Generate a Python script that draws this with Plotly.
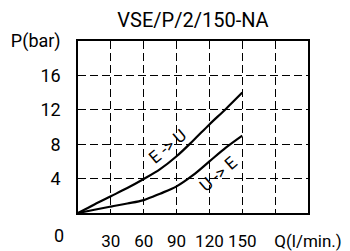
import plotly.graph_objects as go

# Data
flow = [0, 15, 30, 45, 60, 75, 90, 105, 120, 135, 150]
p_e_to_u = [0, 1.0, 1.95, 2.9, 3.95, 5.1, 6.6, 8.4, 10.3, 12.1, 14.0]
p_u_to_e = [0, 0.38, 0.75, 1.1, 1.5, 2.25, 3.1, 4.4, 6.0, 7.6, 9.0]

x_tickvals = [30, 60, 90, 120, 150, 180, 210]
x_ticktext = ["30", "60", "90", "120", "150", "", "Q(l/min.)"]
y_tickvals = [4, 8, 12, 16, 20]
y_ticktext = ["4", "8", "12", "16", "P(bar)"]

FONT = "Roboto"

fig = go.Figure()
fig.add_trace(go.Scatter(x=flow, y=p_e_to_u, mode="lines",
                         line=dict(color="black", width=2.2, shape="spline", smoothing=1.0),
                         showlegend=False, hoverinfo="skip", cliponaxis=False))
fig.add_trace(go.Scatter(x=flow, y=p_u_to_e, mode="lines",
                         line=dict(color="black", width=2.2, shape="spline", smoothing=1.0),
                         showlegend=False, hoverinfo="skip", cliponaxis=False))

fig.add_annotation(x=82, y=7.8, text="E -> U", showarrow=False, textangle=-40,
                   font=dict(family=FONT, size=17, color="black"))
fig.add_annotation(x=128, y=4.5, text="U -> E", showarrow=False, textangle=-41,
                   font=dict(family=FONT, size=17, color="black"))
fig.add_annotation(x=0, y=0, text="0", showarrow=False, xshift=-19, yshift=-22,
                   font=dict(family=FONT, size=18, color="black"))

fig.update_layout(
    width=350, height=251, autosize=False,
    margin=dict(l=78, r=42, t=41, b=38, autoexpand=False),
    paper_bgcolor="white", plot_bgcolor="white",
    font=dict(family=FONT, size=18, color="black"),
    title=dict(text="VSE/P/2/150-NA", x=0.5, xref="paper", xanchor="center",
               y=1 - 20 / 251, yref="container", yanchor="middle",
               font=dict(family=FONT, size=20, color="black")),
    showlegend=False,
)
fig.update_xaxes(range=[0, 210], tickvals=x_tickvals, ticktext=x_ticktext,
                 tickangle=0, automargin=False, tickfont=dict(size=17),
                 showgrid=True, gridcolor="black", gridwidth=1, griddash="8px,4px",
                 showline=True, linecolor="black", linewidth=1.5, mirror=True,
                 ticks="", ticklabelstandoff=12, zeroline=False, fixedrange=True)
fig.update_yaxes(range=[0, 20], tickvals=y_tickvals, ticktext=y_ticktext,
                 automargin=False,
                 showgrid=True, gridcolor="black", gridwidth=1, griddash="8px,4px",
                 showline=True, linecolor="black", linewidth=1.5, mirror=True,
                 ticks="", ticklabelstandoff=12, zeroline=False, fixedrange=True)

fig.write_html("out.html", config={"displayModeBar": False},
               post_script="document.body.style.margin='0';document.body.style.overflow='hidden';")
